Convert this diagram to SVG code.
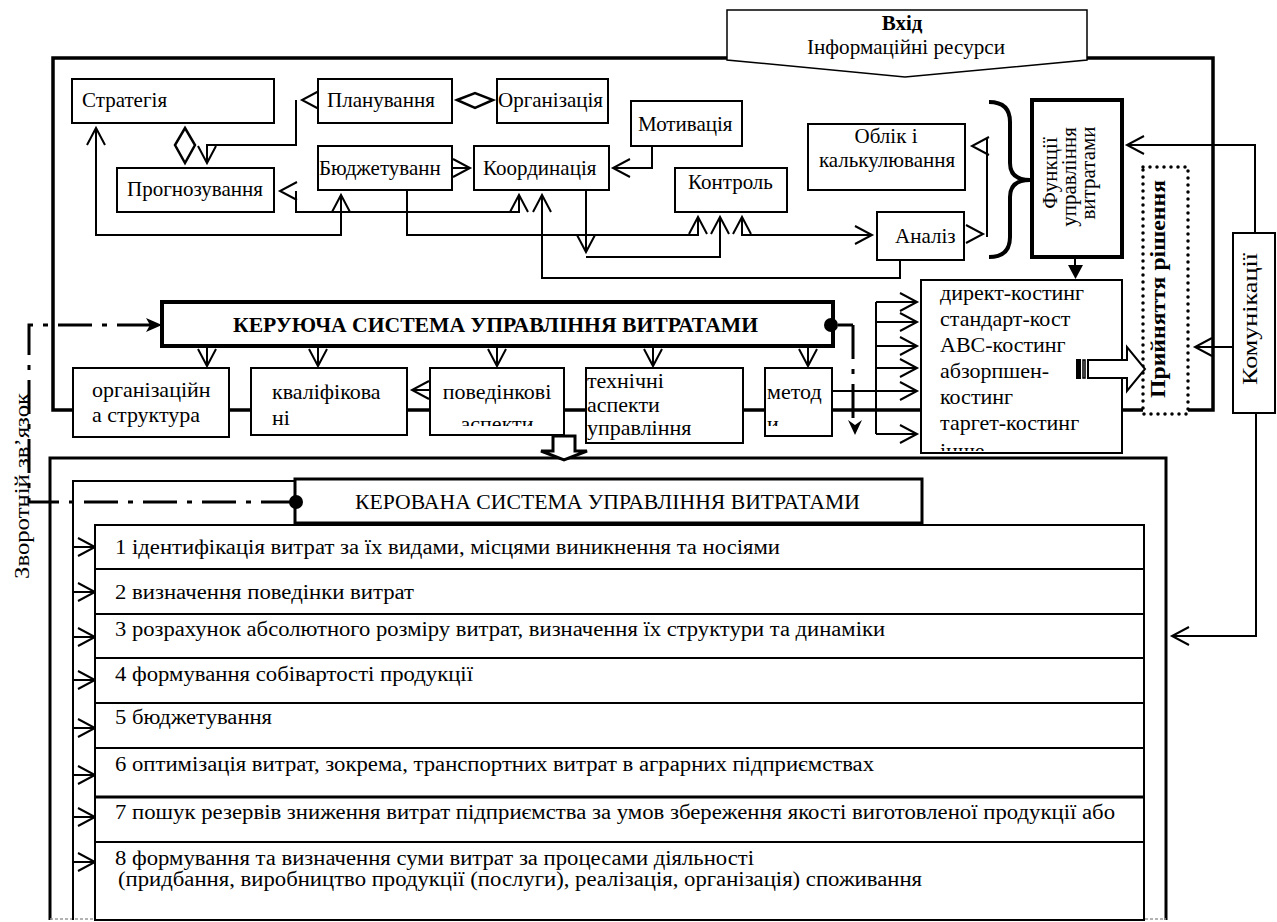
<svg xmlns="http://www.w3.org/2000/svg" width="1277" height="922" viewBox="0 0 1277 922">
<style>
.b{fill:#fff;stroke:#000;stroke-width:2}
.ln{fill:none;stroke:#000;stroke-width:2}
.fr{fill:none;stroke:#000;stroke-width:3.5}
.dd{fill:none;stroke:#000;stroke-width:3;stroke-dasharray:34 10 5 10}
.t{font-family:"Liberation Serif","Times New Roman",serif;font-size:21px;fill:#000}
.m{font-size:22px}
.r{font-family:"Liberation Serif","Times New Roman",serif;font-size:20px;fill:#000}
.bd{font-weight:bold}
.c{text-anchor:middle}
</style>
<defs>
<path id="ah" d="M-17,-9 L0,0 L-17,9" fill="none" stroke="#000" stroke-width="2"/>
<clipPath id="cpCost"><rect x="921" y="280" width="201" height="171"/></clipPath>
<clipPath id="cpPov"><rect x="430" y="368" width="134" height="58"/></clipPath>
<clipPath id="cpMet"><rect x="765" y="368" width="67" height="58"/></clipPath>
</defs>
<rect width="1277" height="922" fill="#fff"/>

<g id="frame">
<path class="fr" d="M727,58 H53 V410 H1213 V58 H1087"/>
</g>

<g id="bottom-frame">
<path d="M50,920 V458 H1166 V920" fill="none" stroke="#000" stroke-width="3"/>
<path d="M50,919 H1166" stroke="#999" stroke-width="1.5" stroke-dasharray="3 2"/>
<path class="ln" d="M73,920 V481 H295"/>
</g>

<g id="connectors">
<path class="ln" d="M296,100 V145 H207 V163"/>
<path class="ln" d="M296,191 V212 H519 V195"/>
<path class="ln" d="M96,128 V235 H341 V195"/>
<path class="ln" d="M452,168 H470"/>
<path class="ln" d="M652,146 V168 H613"/>
<path class="ln" d="M407,190 V235 H698 V217"/>
<path class="ln" d="M586,190 V252"/>
<path class="ln" d="M586,257 H720 V217"/>
<path class="ln" d="M742,217 V235 H872"/>
<path class="ln" d="M900,260 V278 H542 V195"/>
<path class="ln" d="M987,139 V237"/>
<path class="ln" d="M1075,257 V266"/>
<polygon points="1068,265 1083,265 1075.5,279" fill="#000"/>
<path class="ln" d="M1255,233 V145 H1127"/>
<path class="ln" d="M1233,347 H1195"/>
<path class="ln" d="M1256,413 V636 H1172"/>
<path class="ln" d="M876,302 V434 M876,302 H917 M876,322 H917 M876,346 H917 M876,368 H917 M876,391 H917 M876,434 H917 M832,391 H876"/>
<path class="ln" d="M207,346 V366 M318,346 V366 M497,346 V366 M653,346 V366 M808,346 V366"/>
<path class="ln" d="M412,390 H430"/>
<path class="ln" d="M73,547 H95 M73,592 H95 M73,637 H95 M73,680 H95 M73,728 H95 M73,775 H95 M73,817 H95 M73,862 H95"/>
<polygon points="185,128 195,145 185,163 175,145" fill="none" stroke="#000" stroke-width="2.5"/>
<polygon points="457,100 475,93 493,100 475,108" fill="none" stroke="#000" stroke-width="2.5"/>
<use href="#ah" transform="translate(96,128) rotate(-90)"/>
<use href="#ah" transform="translate(341,195) rotate(-90)"/>
<use href="#ah" transform="translate(519,195) rotate(-90)"/>
<use href="#ah" transform="translate(542,195) rotate(-90)"/>
<use href="#ah" transform="translate(698,217) rotate(-90)"/>
<use href="#ah" transform="translate(720,217) rotate(-90)"/>
<use href="#ah" transform="translate(742,217) rotate(-90)"/>
<use href="#ah" transform="translate(280,191) rotate(180)"/>
<use href="#ah" transform="translate(207,163) rotate(90)"/>
<use href="#ah" transform="translate(302,100) rotate(180)"/>
<use href="#ah" transform="translate(470,168)"/>
<use href="#ah" transform="translate(613,168) rotate(180)"/>
<use href="#ah" transform="translate(586,252) rotate(90)"/>
<use href="#ah" transform="translate(872,235)"/>
<use href="#ah" transform="translate(983,234)"/>
<use href="#ah" transform="translate(972,146) rotate(180)"/>
<use href="#ah" transform="translate(1127,145) rotate(180)"/>
<use href="#ah" transform="translate(1195,347) rotate(180)"/>
<use href="#ah" transform="translate(1172,636) rotate(180)"/>
<use href="#ah" transform="translate(917,302)"/>
<use href="#ah" transform="translate(917,322)"/>
<use href="#ah" transform="translate(917,346)"/>
<use href="#ah" transform="translate(917,368)"/>
<use href="#ah" transform="translate(917,391)"/>
<use href="#ah" transform="translate(917,434)"/>
<use href="#ah" transform="translate(207,366) rotate(90)"/>
<use href="#ah" transform="translate(318,366) rotate(90)"/>
<use href="#ah" transform="translate(497,366) rotate(90)"/>
<use href="#ah" transform="translate(653,366) rotate(90)"/>
<use href="#ah" transform="translate(808,366) rotate(90)"/>
<use href="#ah" transform="translate(412,390) rotate(180)"/>
<use href="#ah" transform="translate(95,547)"/>
<use href="#ah" transform="translate(95,592)"/>
<use href="#ah" transform="translate(95,637)"/>
<use href="#ah" transform="translate(95,680)"/>
<use href="#ah" transform="translate(95,728)"/>
<use href="#ah" transform="translate(95,775)"/>
<use href="#ah" transform="translate(95,817)"/>
<use href="#ah" transform="translate(95,862)"/>
<!-- feedback dash-dot lines -->
<path class="dd" d="M295,502 H29 V325 H150"/>
<polygon points="146,318 162,325 146,332 150,325" fill="#000"/>
<path d="M838,325 H853" stroke="#000" stroke-width="3"/>
<path class="dd" d="M853,325 V421"/>
<polygon points="848,420 855,425 862,420 855,435" fill="#000"/>
<!-- block arrow down -->
<polygon points="553,436 575,436 575,451 587,451 564,460 541,451 553,451" fill="#fff" stroke="#000" stroke-width="3"/>
</g>

<g id="vhid">
<polygon points="727,10 1087,10 1087,60 905,77 727,60" fill="#fff" stroke="#000" stroke-width="1.5"/>
<text class="t bd c" x="902" y="30" font-size="19">Вхід</text>
<text class="t c" x="906" y="54" font-size="19" textLength="198" lengthAdjust="spacingAndGlyphs">Інформаційні ресурси</text>
</g>

<g id="strategiya"><rect class="b" x="72" y="79" width="202" height="44"/><text class="t" x="82" y="107">Стратегія</text></g>
<g id="planuvannya"><rect class="b" x="318" y="79" width="134" height="44"/><text class="t" x="327" y="107">Планування</text></g>
<g id="organizatsiya"><rect class="b" x="497" y="79" width="111" height="44"/><text class="t" x="498" y="107">Організація</text></g>
<g id="motyvatsiya"><rect class="b" x="631" y="101" width="111" height="45"/><text class="t" x="638" y="131">Мотивація</text></g>
<g id="prognozuvannya"><rect class="b" x="117" y="168" width="157" height="44"/><text class="t" x="127" y="196">Прогнозування</text></g>
<g id="budzhetuvannya"><rect class="b" x="318" y="146" width="134" height="44"/><text class="t" x="319" y="175">Бюджетуванн</text></g>
<g id="koordynatsiya"><rect class="b" x="474" y="146" width="135" height="44"/><text class="t" x="483" y="175">Координація</text></g>
<g id="kontrol"><rect class="b" x="675" y="168" width="112" height="44"/><text class="t" x="688" y="189">Контроль</text></g>
<g id="oblik"><rect class="b" x="808" y="124" width="157" height="66"/><text class="t c" x="886" y="143">Облік і</text><text class="t c" x="887" y="167">калькулювання</text></g>
<g id="analiz"><rect class="b" x="877" y="212" width="87" height="48"/><text class="t" x="895" y="243">Аналіз</text></g>

<g id="brace">
<path d="M989,102 Q1010,102 1010,122 L1010,163 Q1010,180 1030,180 Q1010,180 1010,197 L1010,237 Q1010,257 989,257" fill="none" stroke="#000" stroke-width="4"/>
</g>

<g id="funktsiyi">
<rect x="1032" y="100" width="90" height="157" fill="#fff" stroke="#000" stroke-width="4"/>
<text class="t c" font-size="22" transform="translate(1057,173) rotate(-90)">Функції</text>
<text class="t c" font-size="22" transform="translate(1076,177) rotate(-90)">управління</text>
<text class="t c" font-size="22" transform="translate(1095,173) rotate(-90)">витратами</text>
</g>

<g id="pryynyattya">
<rect x="1143" y="167" width="45" height="247" fill="#fff" stroke="#000" stroke-width="3.5" stroke-dasharray="0 7" stroke-linecap="round"/>
<text class="t bd c" font-size="22" transform="translate(1165,289) rotate(-90)" textLength="218" lengthAdjust="spacingAndGlyphs">Прийняття рішення</text>
</g>

<g id="komunikatsiyi">
<rect class="b" x="1233" y="233" width="42" height="180"/>
<text class="t c" font-size="24" transform="translate(1257,319) rotate(-90)" textLength="132" lengthAdjust="spacingAndGlyphs">Комунікації</text>
</g>

<g id="metody-kalkulyuvannya">
<rect class="b" x="921" y="280" width="201" height="173"/>
<g clip-path="url(#cpCost)">
<text class="t m" x="940" y="300">директ-костинг</text>
<text class="t m" x="940" y="326">стандарт-кост</text>
<text class="t m" x="940" y="352">АВС-костинг</text>
<text class="t m" x="940" y="378">абзорпшен-</text>
<text class="t m" x="940" y="404">костинг</text>
<text class="t m" x="940" y="430">таргет-костинг</text>
<text class="t m" x="940" y="458">інше</text>
</g>
</g>

<g id="striped-arrow">
<rect x="1076" y="359" width="5" height="20" fill="#000"/>
<rect x="1083" y="360" width="2" height="18" fill="#fff" stroke="#000" stroke-width="1.5"/>
<polygon points="1088,360 1127,360 1127,347 1145,369 1127,391 1127,378 1088,378" fill="#fff" stroke="#000" stroke-width="2"/>
</g>

<g id="keruyucha">
<rect x="162" y="302" width="671" height="44" fill="#fff" stroke="#000" stroke-width="4"/>
<text class="t bd" x="233" y="332" font-size="20" textLength="525" lengthAdjust="spacingAndGlyphs">КЕРУЮЧА СИСТЕМА УПРАВЛІННЯ ВИТРАТАМИ</text>
<circle cx="831" cy="325" r="7" fill="#000"/>
</g>

<g id="org-struktura"><rect class="b" x="73" y="368" width="156" height="69"/><text class="t m" x="92" y="397">організаційн</text><text class="t m" x="92" y="422">а структура</text></g>
<g id="kvalifikovani"><rect class="b" x="251" y="368" width="156" height="67"/><text class="t m" x="272" y="399">кваліфікова</text><text class="t m" x="272" y="425">ні</text></g>
<g id="povedinkovi"><rect class="b" x="430" y="368" width="134" height="67"/><g clip-path="url(#cpPov)"><text class="t m c" x="497" y="399">поведінкові</text><text class="t m c" x="497" y="431">аспекти</text></g></g>
<g id="tekhnichni"><rect class="b" x="586" y="368" width="157" height="75"/><text class="t m" x="587" y="388">технічні</text><text class="t m" x="587" y="412">аспекти</text><text class="t m" x="587" y="435">управління</text></g>
<g id="metody"><rect class="b" x="765" y="368" width="67" height="68"/><g clip-path="url(#cpMet)"><text class="t m" x="767" y="399">метод</text><text class="t m" x="767" y="431">и</text></g></g>

<g id="zvorotniy-label">
<text class="r c" transform="translate(29,486) rotate(-90)" textLength="186" lengthAdjust="spacingAndGlyphs">Зворотній зв’язок</text>
</g>

<g id="kerovana">
<rect x="295" y="479" width="627" height="44" fill="#fff" stroke="#000" stroke-width="3"/>
<text class="r" x="355" y="509" textLength="505" lengthAdjust="spacingAndGlyphs">КЕРОВАНА СИСТЕМА УПРАВЛІННЯ ВИТРАТАМИ</text>
<circle cx="296" cy="502" r="7" fill="#000"/>
</g>

<g id="rows">
<rect class="b" x="95" y="525" width="1049" height="395"/>
<path class="ln" d="M95,569 H1144 M95,614 H1144 M95,658 H1144 M95,703 H1144 M95,748 H1144 M95,842 H1144"/>
<path d="M95,797 H1144" stroke="#000" stroke-width="3"/>
<text class="r" x="115" y="554" textLength="665" lengthAdjust="spacingAndGlyphs">1 ідентифікація витрат за їх видами, місцями виникнення та носіями</text>
<text class="r" x="115" y="599" textLength="299" lengthAdjust="spacingAndGlyphs">2 визначення поведінки витрат</text>
<text class="r" x="115" y="636" textLength="770" lengthAdjust="spacingAndGlyphs">3 розрахунок абсолютного розміру витрат, визначення їх структури та динаміки</text>
<text class="r" x="115" y="681" textLength="358" lengthAdjust="spacingAndGlyphs">4 формування собівартості продукції</text>
<text class="r" x="115" y="724" textLength="157" lengthAdjust="spacingAndGlyphs">5 бюджетування</text>
<text class="r" x="115" y="771" textLength="759" lengthAdjust="spacingAndGlyphs">6 оптимізація витрат, зокрема, транспортних витрат в аграрних підприємствах</text>
<text class="r" x="115" y="819" textLength="1000" lengthAdjust="spacingAndGlyphs">7 пошук резервів зниження витрат підприємства за умов збереження якості виготовленої продукції або</text>
<text class="r" x="115" y="865" font-size="18" textLength="639" lengthAdjust="spacingAndGlyphs">8 формування та визначення суми витрат за процесами діяльності</text>
<text class="r" x="118" y="886" font-size="18" textLength="804" lengthAdjust="spacingAndGlyphs">(придбання, виробництво продукції (послуги), реалізація, організація) споживання</text>
</g>
</svg>
